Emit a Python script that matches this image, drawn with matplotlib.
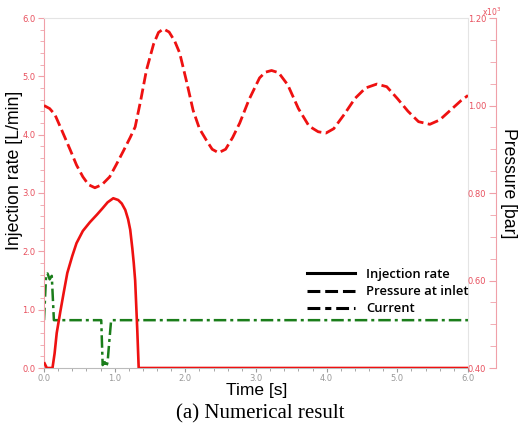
import matplotlib
matplotlib.use("Agg")
import matplotlib.pyplot as plt
from matplotlib.lines import Line2D

# ---- data ----
t_inj = [0.0, 0.04, 0.08, 0.12, 0.15, 0.18, 0.23, 0.28, 0.33, 0.40, 0.46, 0.55, 0.65, 0.75,
         0.83, 0.90, 0.98, 1.05, 1.10, 1.15, 1.19, 1.22, 1.25, 1.27, 1.29, 1.32, 1.34,
         2.0, 3.0, 4.0, 5.0, 6.0]
q_inj = [0.10, 0.0, 0.0, 0.0, 0.25, 0.60, 0.96, 1.30, 1.63, 1.92, 2.14, 2.35, 2.50, 2.63,
         2.74, 2.84, 2.91, 2.88, 2.82, 2.71, 2.55, 2.37, 2.05, 1.80, 1.50, 0.65, 0.0,
         0.0, 0.0, 0.0, 0.0, 0.0]

t_cur = [0.0, 0.03, 0.05, 0.08, 0.11, 0.14, 0.81, 0.83, 0.86, 0.88, 0.90, 0.92, 0.95, 6.0]
i_cur = [0.82, 1.60, 1.62, 1.52, 1.58, 0.82, 0.82, 0.05, 0.10, 0.02, 0.10, 0.40, 0.82, 0.82]

t_p = [0.0, 0.08, 0.155, 0.25, 0.37, 0.46, 0.55, 0.63, 0.72, 0.82, 0.93, 1.02, 1.12, 1.22,
       1.29, 1.37, 1.45, 1.55, 1.62, 1.69, 1.77, 1.85, 1.92, 2.02, 2.11, 2.2, 2.3, 2.38,
       2.47, 2.57, 2.67, 2.77, 2.9, 3.05, 3.13, 3.22, 3.32, 3.45, 3.6, 3.75, 3.88, 3.99,
       4.1, 4.25, 4.4, 4.55, 4.71, 4.85, 5.0, 5.15, 5.3, 5.46, 5.6, 5.75, 5.9, 6.0]
p_in = [1.000, 0.993, 0.979, 0.944, 0.899, 0.864, 0.837, 0.819, 0.812, 0.819, 0.837, 0.864,
        0.895, 0.927, 0.951, 1.013, 1.081, 1.140, 1.167, 1.175, 1.168, 1.147, 1.120, 1.053,
        0.989, 0.947, 0.920, 0.900, 0.892, 0.900, 0.927, 0.960, 1.013, 1.063, 1.076, 1.080,
        1.075, 1.047, 0.993, 0.953, 0.940, 0.937, 0.947, 0.980, 1.016, 1.040, 1.049, 1.043,
        1.016, 0.987, 0.963, 0.957, 0.967, 0.989, 1.011, 1.023]

x_ticks = [0.0, 1.0, 2.0, 3.0, 4.0, 5.0, 6.0]
y_ticks = [0.0, 1.0, 2.0, 3.0, 4.0, 5.0, 6.0]
p_ticks = [0.40, 0.60, 0.80, 1.00, 1.20]

# ---- style ----
tick_red = '#e8505e'
spine_red = '#f0a0a8'
gray = '#999999'

fig = plt.figure(figsize=(5.21, 4.32), dpi=100)
ax = fig.add_axes([44/521, 64/432, 424/521, 350/432])
ax2 = ax.twinx()

ax.plot(t_inj, q_inj, color='#ee1111', lw=1.9, solid_capstyle='butt', zorder=3)
ax.plot(t_cur, i_cur, color='#1a7d1a', lw=1.8, linestyle=(0, (5, 1.6, 1.2, 1.6)), zorder=2)
ax2.plot(t_p, p_in, color='#ee1111', lw=2.0, linestyle=(0, (4, 1.6)))

ax.set_xlim(0, 6)
ax.set_ylim(0, 6)
ax2.set_ylim(0.4, 1.2)

ax.set_xticks(x_ticks)
ax.set_xticklabels([f"{v:.1f}" for v in x_ticks])
ax.set_xticks([i * 0.2 for i in range(31)], minor=True)
ax.set_yticks(y_ticks)
ax.set_yticklabels([f"{v:.1f}" for v in y_ticks])
ax.set_yticks([i * 0.2 for i in range(31)], minor=True)

ax.tick_params(axis='x', which='both', direction='out', colors=gray, labelsize=6, pad=1)
ax.tick_params(axis='x', which='major', length=3)
ax.tick_params(axis='x', which='minor', length=2)
ax.tick_params(axis='y', which='both', direction='out', colors=spine_red, labelcolor=tick_red,
               labelsize=6, pad=2)
ax.tick_params(axis='y', which='major', length=4)
ax.tick_params(axis='y', which='minor', length=3)

for s in ['top', 'right']:
    ax.spines[s].set_color('#e4e4e4')
    ax.spines[s].set_linewidth(0.8)
ax.spines['bottom'].set_color('#bbbbbb')
ax.spines['left'].set_color(spine_red)

# right pressure axis: its own spine offset to the right, labels on its left
for s in ['top', 'right', 'bottom']:
    ax2.spines[s].set_visible(False)
ax2.spines['left'].set_visible(True)
ax2.spines['left'].set_position(('axes', 452/424))
ax2.spines['left'].set_color(spine_red)
ax2.yaxis.set_ticks_position('left')
ax2.set_yticks(p_ticks)
ax2.set_yticklabels([f"{v:.2f}" for v in p_ticks])
ax2.set_yticks([0.4 + i * 0.05 for i in range(17)], minor=True)
ax2.tick_params(axis='y', which='both', direction='out', colors=spine_red, labelcolor=tick_red,
                labelsize=6, pad=2)
ax2.tick_params(axis='y', which='major', length=5)
ax2.tick_params(axis='y', which='minor', length=4)

fig.text(492/521, 1 - 12/432, r'x10$^3$', color=tick_red, fontsize=5.5, ha='center', va='center')

# labels
fig.text(15/521, 1 - 170/432, 'Injection rate [L/min]', rotation=90, fontsize=12.8,
         ha='center', va='center', family='Liberation Sans')
fig.text(508/521, 1 - 183/432, 'Pressure [bar]', rotation=270, fontsize=12.7,
         ha='center', va='center', family='Liberation Sans')
fig.text(257/521, 1 - 391/432, 'Time [s]', fontsize=12.5, ha='center', va='center',
         family='Liberation Sans')
fig.text(260/521, 1 - 414/432, '(a) Numerical result', fontsize=15, ha='center', va='center',
         family='Liberation Serif')

handles = [Line2D([], [], color='black', lw=2.2),
           Line2D([], [], color='black', lw=2.2, linestyle=(0, (4.2, 1.6))),
           Line2D([], [], color='black', lw=2.2, linestyle=(0, (4.2, 1.6, 2.0, 1.6)))]
leg = ax.legend(handles, ['Injection rate', 'Pressure at inlet', 'Current'],
                loc='upper left', bbox_to_anchor=(263/424, 1 - 250/350), frameon=False,
                prop={'family': 'Open Sans', 'size': 9.4, 'weight': 'semibold'},
                handlelength=3.7, handletextpad=0.85, labelspacing=0.32, borderpad=0,
                borderaxespad=0)

fig.savefig('out.png', dpi=100)
